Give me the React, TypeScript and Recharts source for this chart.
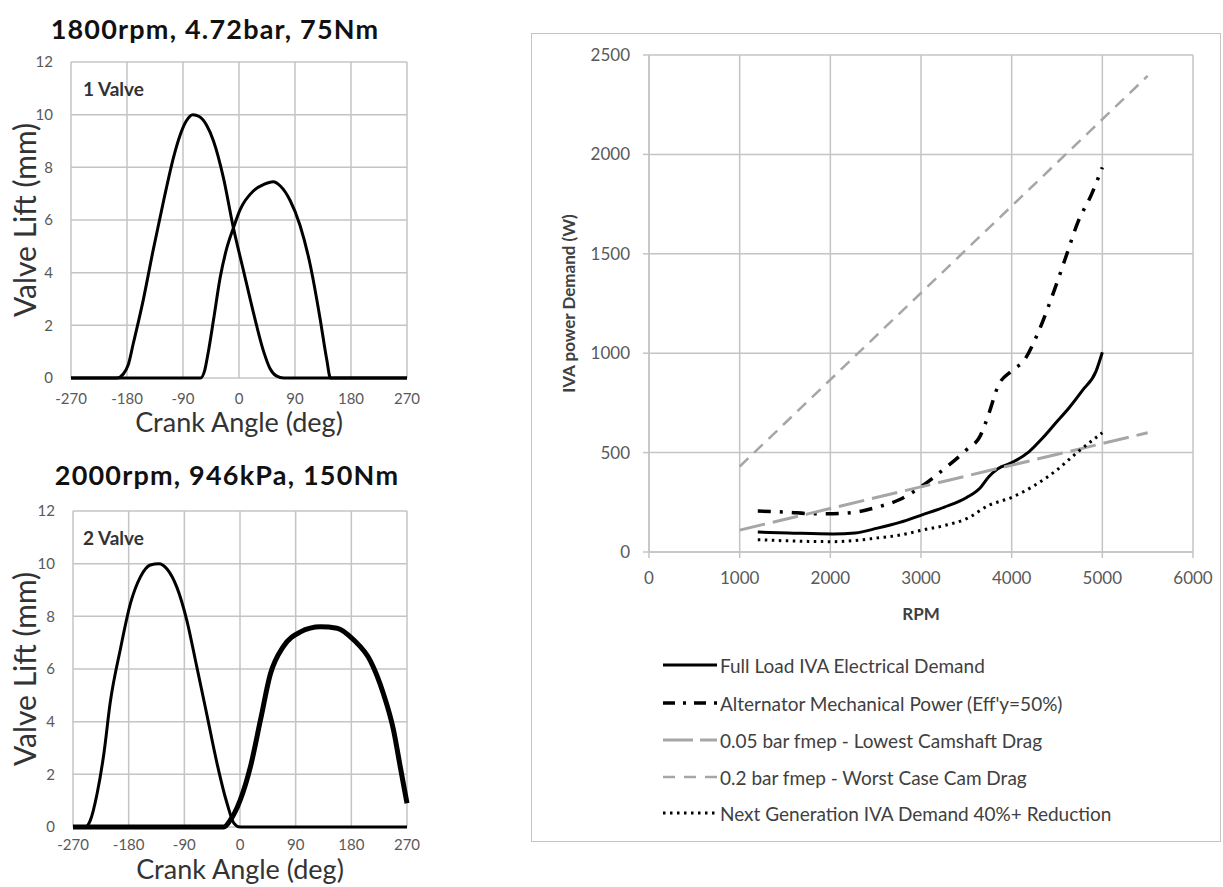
import { LineChart, Line, XAxis, YAxis, CartesianGrid, Label } from "recharts";

const FONT = "Lato, 'Open Sans', sans-serif";

// ---- valve lift charts (left) ----
const ANGLE_TICKS = [-270, -180, -90, 0, 90, 180, 270];
const LIFT_TICKS = [0, 2, 4, 6, 8, 10, 12];

// 1800rpm, 1 valve: [crank angle deg, lift mm]
const oneValveA: [number, number][] = [
  [-270, 0], [-196, 0], [-186, 0.15], [-178, 0.5], [-170, 1.3], [-154, 2.95], [-138, 4.85],
  [-121, 6.75], [-105, 8.4], [-95, 9.2], [-85, 9.75], [-74, 10], [-64, 9.93], [-52, 9.6],
  [-41, 9.0], [-25, 7.6], [-9, 5.7], [7, 4.1], [23, 2.5], [39, 1.05], [50, 0.35], [60, 0.08],
  [72, 0], [270, 0],
];
const oneValveB: [number, number][] = [
  [-270, 0], [-62, 0], [-55, 0.3], [-50, 0.9], [-41, 2.2], [-30, 3.85], [-20, 4.9],
  [-9, 5.7], [2, 6.4], [23, 7.1], [40, 7.35], [55, 7.45], [66, 7.3], [82, 6.75],
  [98, 5.8], [114, 4.35], [130, 2.3], [141, 0.7], [147, 0], [270, 0],
];

// 2000rpm, 2 valve
const twoValveA: [number, number][] = [
  [-270, 0], [-250, 0], [-242, 0.25], [-231, 1.27], [-220, 2.8], [-210, 4.7], [-193, 6.8],
  [-177, 8.5], [-161, 9.5], [-145, 9.95], [-131, 10], [-118, 9.8], [-102, 9.1], [-86, 7.85],
  [-70, 6.1], [-53, 4.2], [-37, 2.4], [-21, 0.9], [-10, 0.15], [0, 0], [270, 0],
];
const twoValveB: [number, number][] = [
  [-270, 0], [-26, 0], [-16, 0.25], [0, 1.0], [17, 2.3], [33, 4.05], [49, 5.8], [70, 6.85],
  [97, 7.4], [130, 7.6], [157, 7.55], [184, 7.1], [211, 6.3], [232, 5.05], [248, 3.7],
  [259, 2.3], [270, 0.9],
];

// ---- IVA power demand chart (right) ----
const RPM_TICKS = [0, 1000, 2000, 3000, 4000, 5000, 6000];
const POWER_TICKS = [0, 500, 1000, 1500, 2000, 2500];

const fullLoad: [number, number][] = [
  [1200, 100], [1535, 96], [2028, 91], [2274, 96], [2520, 120], [2766, 149], [3012, 187],
  [3258, 226], [3504, 274], [3652, 322], [3750, 380], [3848, 419], [3996, 448], [4193, 505],
  [4341, 573], [4488, 650], [4636, 727], [4783, 814], [4931, 910], [5000, 1005],
];
const alternator: [number, number][] = [
  [1200, 206], [1535, 200], [1781, 193], [2028, 193], [2274, 200], [2520, 226], [2766, 264],
  [3012, 332], [3258, 419], [3504, 515], [3652, 583], [3750, 698], [3848, 833], [3996, 910],
  [4144, 968], [4291, 1103], [4439, 1277], [4587, 1470], [4734, 1663], [4882, 1800], [5000, 1935],
];
const lowDrag: [number, number][] = [[1000, 110], [5500, 600]];
const worstDrag: [number, number][] = [[1000, 430], [5500, 2395]];
const nextGen: [number, number][] = [
  [1200, 62], [1535, 56], [2028, 52], [2274, 58], [2520, 71], [2766, 85], [3012, 110],
  [3258, 133], [3504, 168], [3750, 235], [3996, 274], [4242, 332], [4488, 409], [4734, 505],
  [5000, 600],
];

const toPts = (arr: [number, number][]) => arr.map(([x, y]) => ({ x, y }));

const GRID = "#c4c4c4";
const GRAY = "#a6a6a6";

interface ValveProps {
  top: number;
  height: number;
  plotTop: number;
  yAxisWidth: number;
  title: string;
  titleY: number;
  titleX: number;
  tag: string;
  tickGap: number;
  xTitleGap: number;
  curves: { data: [number, number][]; width: number }[];
}

function ValveChart(p: ValveProps) {
  const { top, height, plotTop, yAxisWidth, title, titleY, titleX, tag, curves } = p;
  return (
    <div style={{ position: "absolute", left: 0, top, width: 420, height }}>
      <div
        style={{
          position: "absolute", left: titleX - 210, width: 420, top: titleY - 17, height: 34,
          lineHeight: "34px", textAlign: "center", fontFamily: FONT, fontWeight: 700,
          fontSize: 27, letterSpacing: 1.2, color: "#111", whiteSpace: "nowrap",
        }}
      >
        {title}
      </div>
      <LineChart
        width={420}
        height={height}
        margin={{ top: plotTop, right: 13, bottom: height - plotTop - 316 - 40, left: 0 }}
      >
        <CartesianGrid stroke={GRID} strokeWidth={1.5} />
        <XAxis
          type="number"
          dataKey="x"
          domain={[-270, 270]}
          ticks={ANGLE_TICKS}
          axisLine={false}
          tickLine={false}
          tickSize={0}
          tickMargin={p.tickGap}
          height={40}
          tick={{ fill: "#595959", fontSize: 15, fontFamily: FONT }}
        >
          <Label
            content={({ viewBox }: any) => (
              <text
                x={viewBox.x + viewBox.width / 2}
                y={viewBox.y + p.xTitleGap}
                textAnchor="middle"
                fontFamily={FONT}
                fontSize={27}
                fill="#333"
              >
                Crank Angle (deg)
              </text>
            )}
          />
        </XAxis>
        <YAxis
          type="number"
          domain={[0, 12]}
          ticks={LIFT_TICKS}
          axisLine={false}
          tickLine={false}
          tickSize={0}
          tickMargin={18}
          width={yAxisWidth}
          tick={{ fill: "#595959", fontSize: 15, fontFamily: FONT }}
        >
          <Label
            content={({ viewBox }: any) => {
              const cx = 24;
              const cy = viewBox.y + viewBox.height / 2;
              return (
                <text
                  x={cx}
                  y={cy}
                  transform={`rotate(-90 ${cx} ${cy})`}
                  textAnchor="middle"
                  dominantBaseline="central"
                  fontFamily={FONT}
                  fontSize={30}
                  fill="#333"
                >
                  Valve Lift (mm)
                </text>
              );
            }}
          />
        </YAxis>
        {curves.map((c, i) => (
          <Line
            key={i}
            data={toPts(c.data)}
            dataKey="y"
            type="monotone"
            stroke="#000"
            strokeWidth={c.width}
            dot={false}
            isAnimationActive={false}
          />
        ))}
      </LineChart>
      <div
        style={{
          position: "absolute", left: 83, top: plotTop + 15, fontFamily: FONT, fontWeight: 700,
          fontSize: 19, color: "#333", whiteSpace: "nowrap",
        }}
      >
        {tag}
      </div>
    </div>
  );
}

const SERIES = [
  { name: "Full Load IVA Electrical Demand", data: fullLoad, color: "#000", width: 3, dash: undefined as string | undefined, legendDash: undefined as string | undefined },
  { name: "Alternator Mechanical Power (Eff'y=50%)", data: alternator, color: "#000", width: 3.5, dash: "13 9 3 9", legendDash: "12 8 3 8" },
  { name: "0.05 bar fmep - Lowest Camshaft Drag", data: lowDrag, color: GRAY, width: 3, dash: "26 8", legendDash: "30 7" },
  { name: "0.2 bar fmep - Worst Case Cam Drag", data: worstDrag, color: GRAY, width: 2.5, dash: "12 8", legendDash: "12 9" },
  { name: "Next Generation IVA Demand 40%+ Reduction", data: nextGen, color: "#000", width: 3, dash: "2.5 4.5", legendDash: "2.5 4.5" },
];

const LEGEND_ROWS = [665, 703, 740, 777, 813];

function PowerChart() {
  const left = 531;
  const top = 33;
  const w = 690;
  const h = 809;
  return (
    <>
      <div
        style={{
          position: "absolute", left, top, width: w, height: h, boxSizing: "border-box",
          border: "1.5px solid #c4c4c4",
        }}
      />
      <div style={{ position: "absolute", left, top, width: w, height: h }}>
        <LineChart width={w} height={h} margin={{ top: 22, right: 28, bottom: 250, left: 0 }}>
          <CartesianGrid stroke={GRID} strokeWidth={1.5} />
          <XAxis
            type="number"
            dataKey="x"
            domain={[0, 6000]}
            ticks={RPM_TICKS}
            axisLine={{ stroke: GRID, strokeWidth: 1.5 }}
            tickLine={{ stroke: GRID, strokeWidth: 1.5 }}
            tickSize={6}
            tickMargin={14}
            height={40}
            tick={{ fill: "#595959", fontSize: 17, fontFamily: FONT }}
          >
            <Label
              content={({ viewBox }: any) => (
                <text
                  x={viewBox.x + viewBox.width / 2}
                  y={viewBox.y + 61}
                  textAnchor="middle"
                  dominantBaseline="central"
                  fontFamily={FONT}
                  fontWeight={700}
                  fontSize={17}
                  fill="#404040"
                >
                  RPM
                </text>
              )}
            />
          </XAxis>
          <YAxis
            type="number"
            domain={[0, 2500]}
            ticks={POWER_TICKS}
            axisLine={{ stroke: GRID, strokeWidth: 1.5 }}
            tickLine={{ stroke: GRID, strokeWidth: 1.5 }}
            tickSize={6}
            tickMargin={13}
            width={118}
            tick={{ fill: "#595959", fontSize: 17, fontFamily: FONT }}
          >
            <Label
              content={({ viewBox }: any) => {
                const cx = 37;
                const cy = viewBox.y + viewBox.height / 2;
                return (
                  <text
                    x={cx}
                    y={cy}
                    transform={`rotate(-90 ${cx} ${cy})`}
                    textAnchor="middle"
                    dominantBaseline="central"
                    fontFamily={FONT}
                    fontWeight={700}
                    fontSize={17}
                    fill="#404040"
                  >
                    IVA power Demand (W)
                  </text>
                );
              }}
            />
          </YAxis>
          {SERIES.map((s) => (
            <Line
              key={s.name}
              name={s.name}
              data={toPts(s.data)}
              dataKey="y"
              type="monotone"
              stroke={s.color}
              strokeWidth={s.width}
              strokeDasharray={s.dash}
              dot={false}
              isAnimationActive={false}
            />
          ))}
        </LineChart>
      </div>
      {SERIES.map((s, i) => (
        <div
          key={s.name}
          style={{
            position: "absolute", left: 663, top: LEGEND_ROWS[i] - 13, height: 26,
            display: "flex", alignItems: "center", fontFamily: FONT, fontSize: 19, color: "#404040",
            whiteSpace: "nowrap",
          }}
        >
          <svg width={54} height={10} style={{ display: "block" }}>
            <line
              x1={0}
              y1={5}
              x2={54}
              y2={5}
              stroke={s.color}
              strokeWidth={s.width}
              strokeDasharray={s.legendDash}
            />
          </svg>
          <span style={{ marginLeft: 3 }}>{s.name}</span>
        </div>
      ))}
    </>
  );
}

export default function App() {
  return (
    <div style={{ position: "absolute", left: 0, top: 0, width: 1223, height: 887, background: "#fff", overflow: "hidden" }}>
      <ValveChart
        top={0}
        height={440}
        plotTop={62}
        yAxisWidth={71}
        title="1800rpm, 4.72bar, 75Nm"
        titleX={215}
        titleY={29}
        tag="1 Valve"
        tickGap={15}
        xTitleGap={54}
        curves={[
          { data: oneValveA, width: 3 },
          { data: oneValveB, width: 3 },
        ]}
      />
      <ValveChart
        top={440}
        height={447}
        plotTop={71}
        yAxisWidth={73}
        title="2000rpm, 946kPa, 150Nm"
        titleX={227}
        titleY={35}
        tag="2 Valve"
        tickGap={12}
        xTitleGap={52}
        curves={[
          { data: twoValveA, width: 3 },
          { data: twoValveB, width: 5 },
        ]}
      />
      <PowerChart />
    </div>
  );
}
